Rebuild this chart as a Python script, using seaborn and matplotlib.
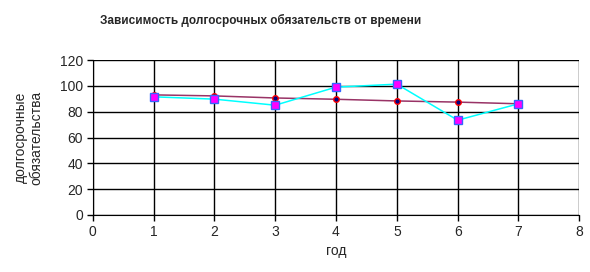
import matplotlib
matplotlib.use("Agg")
import matplotlib.pyplot as plt
import seaborn as sns
import pandas as pd

years = [1, 2, 3, 4, 5, 6, 7]
liabilities = [91.5, 89.7, 85.0, 99.0, 101.3, 73.4, 86.1]
trend = [93.0, 92.2, 90.6, 89.6, 88.3, 87.4, 86.1]

x_ticks = [0, 1, 2, 3, 4, 5, 6, 7, 8]
y_ticks = [0, 20, 40, 60, 80, 100, 120]

title = "Зависимость долгосрочных обязательств от времени"
xlabel = "год"
ylabel = "долгосрочные\nобязательства"

sns.set_style("white")
plt.rcParams['font.family'] = ['Liberation Sans', 'DejaVu Sans']

df = pd.DataFrame({"год": years, "val": liabilities, "trend": trend})

fig = plt.figure(figsize=(5.9, 2.72), dpi=100)
ax = fig.add_axes([92.7 / 590, 57 / 272, (579.3 - 92.7) / 590, 155 / 272])

sns.lineplot(data=df, x="год", y="trend", ax=ax, color="#993366", lw=1.1,
             marker="o", markersize=4, markerfacecolor="#000080",
             markeredgecolor="#FF0000", markeredgewidth=1.0, zorder=3)
sns.lineplot(data=df, x="год", y="val", ax=ax, color="#00FFFF", lw=1.1,
             marker="s", markersize=5.5, markerfacecolor="#FF00FF",
             markeredgecolor="#3366FF", markeredgewidth=1.0, zorder=4)

ax.set_xlim(0, 8)
ax.set_ylim(0, 120)
ax.set_xticks(x_ticks)
ax.set_yticks(y_ticks)
ax.grid(True, color="black", lw=1.0)
ax.set_axisbelow(True)
for s in ax.spines.values():
    s.set_visible(False)
ax.spines['left'].set_visible(True)
ax.spines['bottom'].set_visible(True)
ax.spines['left'].set_color("black")
ax.spines['bottom'].set_color("black")
ax.tick_params(axis="both", which="both", direction="out", length=4, width=1,
               color="black", labelsize=10, left=True, bottom=True, pad=3)
ax.set_xlabel(xlabel, fontsize=10, labelpad=4)
ax.set_ylabel(ylabel, fontsize=10, labelpad=12, linespacing=1.1)

fig.text(261 / 590, 1 - 20 / 272, title, ha="center", va="center",
         fontsize=8.5, fontweight="bold")

fig.savefig("out.png", dpi=100)
